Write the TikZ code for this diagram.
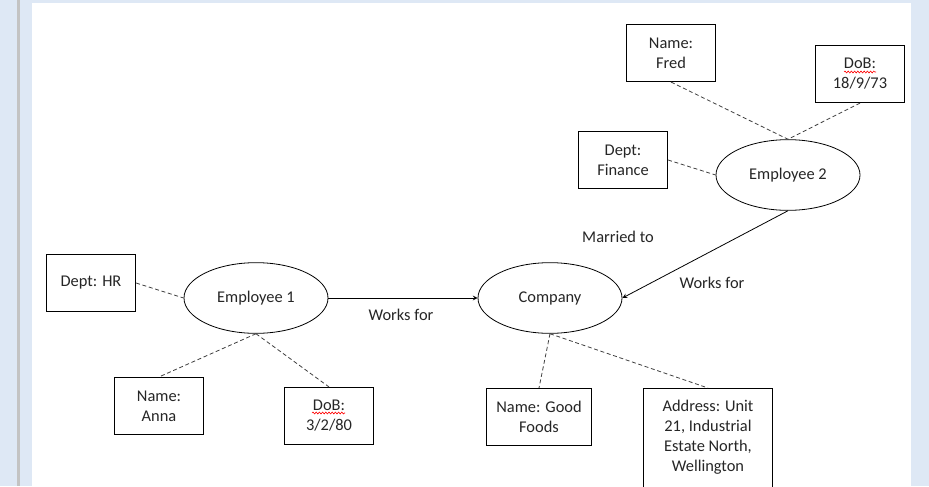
\documentclass[tikz,border=0pt]{standalone}
\usepackage{fontspec}
\setmainfont{Carlito}
\usepackage{tikz}
\usetikzlibrary{shapes.geometric,arrows,positioning,decorations.pathmorphing}

\definecolor{pageblue}{RGB}{222,232,245}
\definecolor{edgegrey}{RGB}{195,195,195}

\begin{document}
\begin{tikzpicture}[x=0.75pt,y=-0.75pt, >=stealth,
    every node/.style={font=\fontsize{12.3}{15}\selectfont, text=black!85},
    entity/.style={ellipse, draw, line width=0.6pt, minimum width=108pt, minimum height=53pt},
    attr/.style={rectangle, draw, line width=0.6pt, minimum width=67pt, minimum height=43pt, align=center},
    link/.style={dashed, dash pattern=on 3pt off 2pt, line width=0.6pt, black!75},
    rel/.style={->, line width=0.6pt},
    typo/.style={red, line width=0.45pt, decorate, decoration={snake, amplitude=0.7pt, segment length=2.4pt}}]

  % page behind the diagram
  \useasboundingbox (0,0) rectangle (929,486);
  \fill[pageblue] (0,0) rectangle (929,486);
  \fill[edgegrey] (17,0) rectangle (19.5,486);
  \fill[white] (32,3) rectangle (911,486);
  \clip (0,0) rectangle (929,486);

  % entities
  \node[entity] (emp1) at (256,298) {Employee 1};
  \node[entity] (comp) at (550,298) {Company};
  \node[entity] (emp2) at (788,175) {Employee 2};

  % attributes
  \node[attr] (fred) at (671,53) {Name:\\Fred};
  \node[attr] (dobtwo) at (860,74) {DoB:\\18/9/73};
  \node[attr] (finance) at (623,160) {Dept:\\Finance};
  \node[attr] (hr) at (91,283) {Dept: HR};
  \node[attr] (anna) at (159,406) {Name:\\Anna};
  \node[attr] (dobone) at (329,416) {DoB:\\3/2/80};
  \node[attr, minimum width=79pt] (foods) at (539,417) {Name: Good\\Foods};
  \node[attr, minimum width=97pt, inner ysep=9pt, anchor=north] (addr) at (708,388)
    {Address: Unit\\21, Industrial\\Estate North,\\Wellington\rule[-12pt]{0pt}{0pt}};

  % relationship labels
  \node (married) at (618,237) {Married to};
  \node (worksb) at (712,283) {Works for};
  \node (worksa) at (401,315) {Works for};

  \draw[rel] (emp1) -- (comp);
  \draw[rel] (emp2.south) -- (comp.east);

  \draw[link] (fred.south) -- (emp2.north);
  \draw[link] (dobtwo.south) -- (emp2.north);
  \draw[link] (finance.east) -- (emp2.west);
  \draw[link] (hr.east) -- (emp1.west);
  \draw[link] (emp1.south) -- (anna.north);
  \draw[link] (emp1.south) -- (dobone.north);
  \draw[link] (comp.south) -- (foods.north);
  \draw[link] (comp.south) -- (addr.north);

  % spell check marks
  \draw[typo] ([shift={(-16,-2)}]dobtwo.center) -- ++(32,0);
  \draw[typo] ([shift={(-17,-3)}]dobone.center) -- ++(33,0);
\end{tikzpicture}
\end{document}
